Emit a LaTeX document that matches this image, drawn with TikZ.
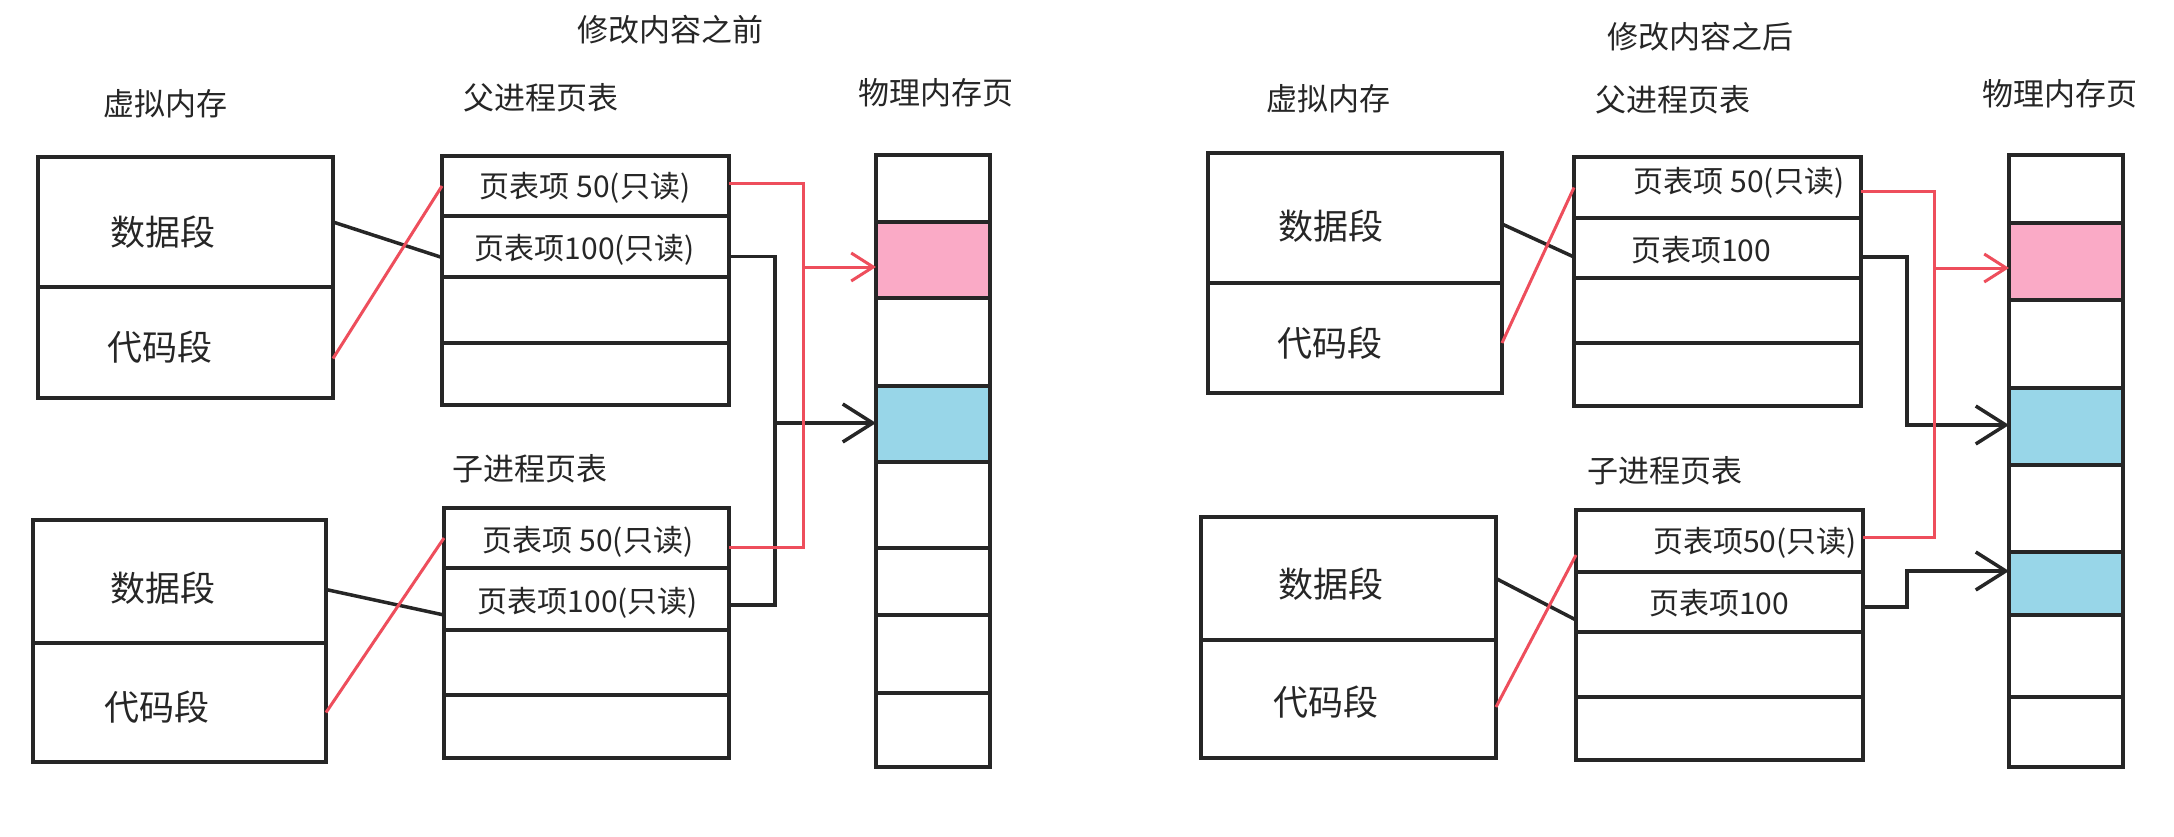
\documentclass[tikz,border=0pt]{standalone}
\usepackage{fontspec}
\setmainfont{Noto Sans CJK SC}
\usetikzlibrary{arrows.meta,calc}
\definecolor{ink}{RGB}{38,38,38}
\definecolor{redline}{RGB}{238,78,92}
\definecolor{pinkfill}{RGB}{250,170,198}
\definecolor{bluefill}{RGB}{152,214,232}
\tikzset{
  cellbox/.style={draw=ink, line width=3.5pt, inner sep=0pt, outer sep=0pt, fill=white},
  lbl/.style={font=\fontsize{31}{36}\selectfont, text=ink, inner sep=0pt},
  seg/.style={font=\fontsize{35}{40}\selectfont, text=ink, inner sep=0pt},
  rowtxt/.style={font=\fontsize{30}{34}\selectfont, text=ink, inner sep=0pt},
  blk/.style={draw=ink, line width=3.5pt},
  redln/.style={draw=redline, line width=3pt},
  blkarrow/.style={blk, -{Straight Barb[length=30pt,width=38pt,line width=3.5pt]}},
  redarrow/.style={redln, -{Straight Barb[length=22pt,width=28pt,line width=3pt]}},
}
% #1 options, #2 name, #3 x1, #4 y1, #5 x2, #6 y2
\newcommand\mkbox[6][]{%
  \node[cellbox,#1,minimum width={#5-#3},minimum height={#6-#4}] (#2) at ({(#3+#5)/2},{(#4+#6)/2}) {};}
\begin{document}
\begin{tikzpicture}[x=1pt,y=-1pt]
\useasboundingbox[fill=white] (0,0) rectangle (2174,836);

% ================= LEFT PANEL =================
\node[lbl] (t1) at (670,30) {修改内容之前};
\node[lbl] (v1) at (165,104) {虚拟内存};
\node[lbl] (pp1) at (541,98) {父进程页表};
\node[lbl] (pm1) at (936,93) {物理内存页};
\node[lbl] (cp1) at (530,469) {子进程页表};

% virtual memory (parent)
\mkbox{vpd1}{38}{157}{333}{287}
\mkbox{vpc1}{38}{287}{333}{398}
% virtual memory (child)
\mkbox{vcd1}{33}{520}{326}{643}
\mkbox{vcc1}{33}{643}{326}{762}
% parent page table
\mkbox{p1a}{442}{156}{729}{216}
\mkbox{p1b}{442}{216}{729}{277}
\mkbox{p1c}{442}{277}{729}{343}
\mkbox{p1d}{442}{343}{729}{405}
% child page table
\mkbox{c1a}{444}{508}{729}{568}
\mkbox{c1b}{444}{568}{729}{630}
\mkbox{c1c}{444}{630}{729}{695}
\mkbox{c1d}{444}{695}{729}{758}
% physical memory
\mkbox{m1a}{876}{155}{990}{222}
\mkbox[fill=pinkfill]{m1b}{876}{222}{990}{298}
\mkbox{m1c}{876}{298}{990}{386}
\mkbox[fill=bluefill]{m1d}{876}{386}{990}{462}
\mkbox{m1e}{876}{462}{990}{548}
\mkbox{m1f}{876}{548}{990}{615}
\mkbox{m1g}{876}{615}{990}{693}
\mkbox{m1h}{876}{693}{990}{767}

\node[seg] (sd1) at (163,232) {数据段};
\node[seg] (sc1) at (160,347) {代码段};
\node[seg] (sd1c) at (163,588) {数据段};
\node[seg] (sc1c) at (157,707) {代码段};
\node[rowtxt] (tp1a) at (585,188) {页表项 50(只读)};
\node[rowtxt] (tp1b) at (585,250) {页表项100(只读)};
\node[rowtxt] (tc1a) at (588,542) {页表项 50(只读)};
\node[rowtxt] (tc1b) at (588,603) {页表项100(只读)};

% segment -> page table entries
\draw[blk] (vpd1.east) -- ($(p1b.west)+(0,11)$);
\draw[redln] ($(vpc1.east)+(0,16)$) -- (p1a.west);
\draw[blk] ($(vcd1.east)+(0,8)$) -- ($(c1b.west)+(0,16)$);
\draw[redln] ($(vcc1.east)+(0,10)$) -- (c1a.west);

% page table entries -> physical pages
\coordinate (bj1) at (775,423);
\coordinate (rj1) at (803,267);
\draw[blk] ($(p1b.east)+(0,10)$) -| (bj1) |- ($(c1b.east)+(0,6)$);
\draw[blkarrow] (bj1) -- (bj1 -| m1d.west);
\draw[redln] ($(p1a.east)+(0,-3)$) -| (rj1) |- ($(c1a.east)+(0,9)$);
\draw[redarrow] (rj1) -- (rj1 -| m1b.west);

% ================= RIGHT PANEL =================
\node[lbl] (t2) at (1700,37) {修改内容之后};
\node[lbl] (v2) at (1328,99) {虚拟内存};
\node[lbl] (pp2) at (1673,100) {父进程页表};
\node[lbl] (pm2) at (2060,94) {物理内存页};
\node[lbl] (cp2) at (1665,471) {子进程页表};

\mkbox{vpd2}{1208}{153}{1502}{283}
\mkbox{vpc2}{1208}{283}{1502}{393}
\mkbox{vcd2}{1201}{517}{1496}{640}
\mkbox{vcc2}{1201}{640}{1496}{758}
\mkbox{p2a}{1574}{157}{1861}{218}
\mkbox{p2b}{1574}{218}{1861}{278}
\mkbox{p2c}{1574}{278}{1861}{343}
\mkbox{p2d}{1574}{343}{1861}{406}
\mkbox{c2a}{1576}{510}{1863}{572}
\mkbox{c2b}{1576}{572}{1863}{632}
\mkbox{c2c}{1576}{632}{1863}{697}
\mkbox{c2d}{1576}{697}{1863}{760}
\mkbox{m2a}{2009}{155}{2123}{223}
\mkbox[fill=pinkfill]{m2b}{2009}{223}{2123}{300}
\mkbox{m2c}{2009}{300}{2123}{388}
\mkbox[fill=bluefill]{m2d}{2009}{388}{2123}{465}
\mkbox{m2e}{2009}{465}{2123}{552}
\mkbox[fill=bluefill]{m2f}{2009}{552}{2123}{615}
\mkbox{m2g}{2009}{615}{2123}{697}
\mkbox{m2h}{2009}{697}{2123}{767}

\node[seg] (sd2) at (1331,226) {数据段};
\node[seg] (sc2) at (1330,343) {代码段};
\node[seg] (sd2c) at (1331,584) {数据段};
\node[seg] (sc2c) at (1326,702) {代码段};
\node[rowtxt] (tp2a) at (1739,183) {页表项 50(只读)};
\node[rowtxt,anchor=west] (tp2b) at (1631,250) {页表项100};
\node[rowtxt] (tc2a) at (1755,543) {页表项50(只读)};
\node[rowtxt,anchor=west] (tc2b) at (1649,603) {页表项100};

\draw[blk] ($(vpd2.east)+(0,6)$) -- ($(p2b.west)+(0,9)$);
\draw[redln] ($(vpc2.east)+(0,5)$) -- (p2a.west);
\draw[blk] (vcd2.east) -- ($(c2b.west)+(0,18)$);
\draw[redln] ($(vcc2.east)+(0,8)$) -- ($(c2a.west)+(0,14)$);

\coordinate (bj2) at (1907,425);
\coordinate (bj3) at (1907,571);
\coordinate (rj2) at (1934,268);
\draw[blkarrow] ($(p2b.east)+(0,9)$) -| (bj2) -- (bj2 -| m2d.west);
\draw[blkarrow] ($(c2b.east)+(0,5)$) -| (bj3) -- (bj3 -| m2f.west);
\draw[redln] ($(p2a.east)+(0,4)$) -| (rj2) |- ($(c2a.east)+(0,-4)$);
\draw[redarrow] (rj2) -- (rj2 -| m2b.west);
\end{tikzpicture}
\end{document}
